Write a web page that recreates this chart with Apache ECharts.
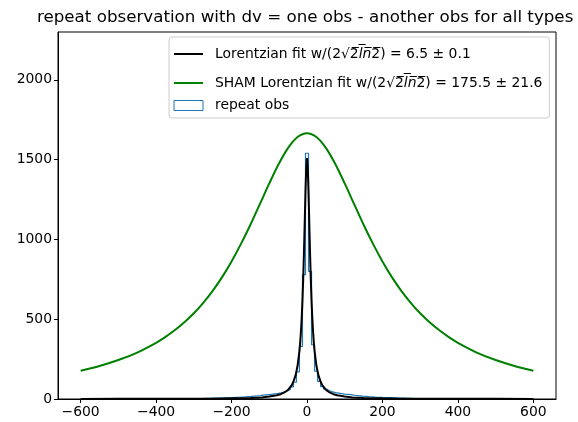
<!DOCTYPE html>
<html>
<head>
<meta charset="utf-8">
<script src="https://cdn.jsdelivr.net/npm/echarts@6/dist/echarts.min.js"></script>
<style>html,body{margin:0;padding:0;background:#fff;}#c{width:578px;height:422px;}</style>
</head>
<body>
<div id="c"></div>
<script>
// ---- data ----
const titleText = 'repeat observation with dv = one obs - another obs for all types';
const xTicks = [-600, -400, -200, 0, 200, 400, 600];
const yTicks = [0, 500, 1000, 1500, 2000];

// histogram (step), bin edges every 8 from -300 to 300
const histEdges = [-300,-292,-284,-276,-268,-260,-252,-244,-236,-228,-220,-212,-204,-196,-188,-180,-172,-164,-156,-148,-140,-132,-124,-116,-108,-100,-92,-84,-76,-68,-60,-52,-44,-36,-28,-20,-12,-4,4,12,20,28,36,44,52,60,68,76,84,92,100,108,116,124,132,140,148,156,164,172,180,188,196,204,212,220,228,236,244,252,260,268,276,284,292,300];
const histCounts = [2,3,3,4,4,5,5,6,6,7,8,8,9,10,11,12,13,15,16,18,19,21,24,26,28,30,33,35,39,44,50,60,76,105,170,330,780,
  1540,
  800,340,175,110,78,62,52,45,40,37,34,31,29,27,24,22,20,18,17,15,14,12,11,10,9,9,8,7,7,6,5,5,4,4,3,3,2];

// Lorentzian fit (black)
const fitX = [-600,-500,-400,-300,-250,-200,-150,-120,-100,-80,-70,-60,-50,-40,-35,-30,-25,-20,-18,-16,-14,-12,-10,-8,-6,-4,-2,0,2,4,6,8,10,12,14,16,18,20,25,30,35,40,50,60,70,80,100,120,150,200,250,300,400,500,600];
const fitY = [0,1,1,2,2,4,7,10,15,23,30,41,58,89,115,151,208,302,355,425,510,619,755,921,1110,1302,1452,1510,1452,1302,1110,921,755,619,510,425,355,302,208,151,115,89,58,41,30,23,15,10,7,4,2,2,1,1,0];

// SHAM Lorentzian fit (green)
const shamX = [-600,-550,-500,-450,-400,-375,-350,-325,-300,-275,-250,-225,-200,-175,-150,-125,-100,-75,-50,-25,0,25,50,75,100,125,150,175,200,225,250,275,300,325,350,375,400,450,500,550,600];
const shamY = [177,207,244,291,352,389,432,481,537,603,678,764,862,972,1092,1221,1351,1473,1574,1642,1666,1642,1574,1473,1351,1221,1092,972,862,764,678,603,537,481,432,389,352,291,244,207,177];

// ---- build ----
const histData = [[histEdges[0], 0]];
for (let i = 0; i < histCounts.length; i++) histData.push([histEdges[i], histCounts[i]]);
histData.push([histEdges[histEdges.length - 1], histCounts[histCounts.length - 1]]);
histData.push([histEdges[histEdges.length - 1], 0]);
const fitData = fitX.map((x, i) => [x, fitY[i]]);
const shamData = shamX.map((x, i) => [x, shamY[i]]);

const FONT = 'DejaVu Sans';
const FS = 13.9;
const legendLabels = {
  'Lorentzian fit': '{a|Lorentzian fit w/(2}{r|√}{a|2\u0305}{i|l\u0305n\u0305}{a|2\u0305) = 6.5 ± 0.1}',
  'SHAM': '{a|SHAM Lorentzian fit w/(2}{r|√}{a|2\u0305}{i|l\u0305n\u0305}{a|2\u0305) = 175.5 ± 21.6}',
  'repeat obs': 'repeat obs'
};
const hidden = {color: 'rgba(0,0,0,0)', borderWidth: 0};

const chart = echarts.init(document.getElementById('c'), null, {renderer: 'canvas'});
chart.setOption({
  animation: false,
  backgroundColor: '#fff',
  title: {
    text: titleText,
    left: 32, top: 4,
    padding: [5, 5, 5, 5],
    textStyle: {fontFamily: FONT, fontSize: 16.7, fontWeight: 'normal', color: '#000'}
  },
  grid: {left: 58, right: 22, top: 32, bottom: 23, show: true, borderColor: '#000', borderWidth: 1, backgroundColor: 'transparent'},
  legend: {
    orient: 'vertical',
    left: 169, top: 37,
    padding: [3, 7, 5, 4],
    itemGap: 1,
    itemWidth: 29, itemHeight: 10,
    backgroundColor: 'rgba(255,255,255,0.8)',
    borderColor: '#cccccc', borderWidth: 1, borderRadius: 3,
    data: [
      {name: 'Lorentzian fit', itemStyle: hidden},
      {name: 'SHAM', itemStyle: hidden},
      {name: 'repeat obs', icon: 'rect', itemStyle: {color: 'rgba(0,0,0,0)', borderColor: '#1f77b4', borderWidth: 1}}
    ],
    formatter: name => legendLabels[name],
    textStyle: {
      fontFamily: FONT, fontSize: FS, color: '#000', lineHeight: 15, padding: [0, 0, 0, 7],
      rich: {
        a: {fontFamily: FONT, fontSize: FS, lineHeight: 28},
        r: {fontFamily: FONT, fontSize: FS, lineHeight: 28},
        i: {fontFamily: FONT, fontSize: FS, fontStyle: 'italic', lineHeight: 28}
      }
    }
  },
  xAxis: {
    type: 'value', min: -660, max: 660,
    axisLine: {show: true, onZero: false, lineStyle: {color: '#000', width: 1}},
    axisTick: {show: true, length: 4, customValues: xTicks, lineStyle: {color: '#000'}},
    axisLabel: {customValues: xTicks, color: '#000', fontFamily: FONT, fontSize: FS, margin: 6,
      formatter: v => v < 0 ? '\u2212' + (-v) : String(v)},
    splitLine: {show: false}
  },
  yAxis: {
    type: 'value', min: 0, max: 2300,
    axisLine: {show: true, onZero: false, lineStyle: {color: '#000', width: 1}},
    axisTick: {show: true, length: 4, customValues: yTicks, lineStyle: {color: '#000'}},
    axisLabel: {customValues: yTicks, color: '#000', fontFamily: FONT, fontSize: FS, margin: 6,
      formatter: v => String(v)},
    splitLine: {show: false}
  },
  series: [
    {
      name: 'repeat obs', type: 'line', step: 'end', data: histData,
      symbol: 'none', z: 2,
      lineStyle: {color: '#1f77b4', width: 1.2},
      itemStyle: {color: '#1f77b4'}
    },
    {
      name: 'Lorentzian fit', type: 'line', data: fitData,
      symbol: 'none', z: 3,
      lineStyle: {color: '#000000', width: 2},
      itemStyle: {color: '#000000'}
    },
    {
      name: 'SHAM', type: 'line', data: shamData, smooth: 0.3,
      symbol: 'none', z: 4,
      lineStyle: {color: '#008000', width: 2},
      itemStyle: {color: '#008000'}
    }
  ]
});
</script>
</body>
</html>
